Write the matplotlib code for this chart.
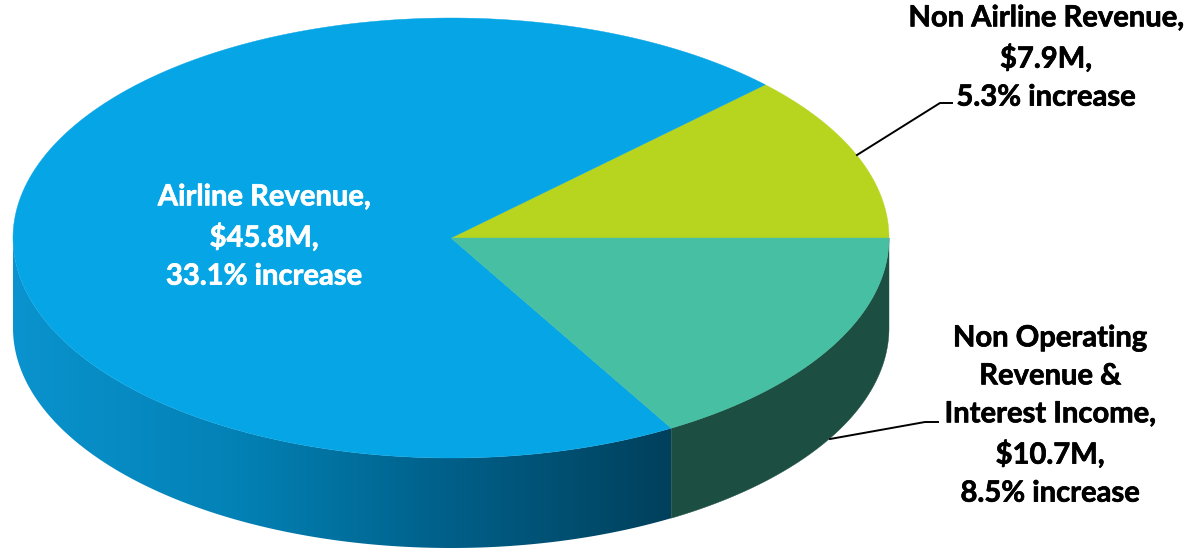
import matplotlib
matplotlib.use("Agg")
import matplotlib.pyplot as plt
import matplotlib.patheffects as pe
from matplotlib.colors import LinearSegmentedColormap
from matplotlib.patches import PathPatch
from matplotlib.path import Path
import numpy as np

# Revenue in $M, counter-clockwise from the 3 o'clock position
segments = ["Non Airline Revenue", "Airline Revenue", "Non Operating Revenue & Interest Income"]
revenue = [7.9, 45.8, 10.7]
top_colors = ["#B7D41E", "#05A5E6", "#47BFA3"]

airline_label = "Airline Revenue,\n$45.8M,\n33.1% increase"
non_airline_label = "Non Airline Revenue,\n$7.9M,\n5.3% increase"
non_operating_label = "Non Operating\nRevenue &\nInterest Income,\n$10.7M,\n8.5% increase"

# Pie geometry in pixels
CX, CY = 451, 238
RX, RY = 438, 220
DEPTH = 90


def rim(start, end, n=200):
    t = np.radians(np.linspace(start, end, n))
    return CX + RX * np.cos(t), CY - RY * np.sin(t)


def closed_path(x, y):
    verts = np.column_stack([x, y])
    verts = np.vstack([verts, verts[0]])
    codes = [Path.MOVETO] + [Path.LINETO] * (len(verts) - 2) + [Path.CLOSEPOLY]
    return Path(verts, codes)


def wall_path(start, end):
    x, y = rim(start, end)
    return closed_path(np.r_[x, x[::-1]], np.r_[y, y[::-1] + DEPTH])


fig = plt.figure(figsize=(11.92, 5.48), dpi=100)
ax = fig.add_axes([0, 0, 1, 1])
ax.set_xlim(0, 1192)
ax.set_ylim(548, 0)
ax.axis("off")

edges = np.r_[0, np.cumsum(revenue)] / sum(revenue) * 360

# Front wall: shaded blue part, then the flat dark green part
shade = LinearSegmentedColormap.from_list("wall", ["#0A93CE", "#0382B6", "#005F88", "#01405C"])
wall_x = rim(180, edges[2])[0]
img = ax.imshow(
    np.linspace(0, 1, 256).reshape(1, -1),
    cmap=shade,
    aspect="auto",
    extent=[wall_x.min(), wall_x.max(), 548, 0],
    zorder=1,
)
blue_wall = PathPatch(wall_path(180, edges[2]), facecolor="none", edgecolor="none", transform=ax.transData)
ax.add_patch(blue_wall)
img.set_clip_path(blue_wall)
ax.set_xlim(0, 1192)
ax.set_ylim(548, 0)

ax.add_patch(PathPatch(wall_path(edges[2], 360), facecolor="#1D4E42", edgecolor="#1D4E42", lw=0.3, zorder=1))

# Top face
for i, color in enumerate(top_colors):
    x, y = rim(edges[i], edges[i + 1], 300)
    ax.add_patch(PathPatch(closed_path(np.r_[CX, x], np.r_[CY, y]), facecolor=color, edgecolor=color, lw=0.3, zorder=2))

# Leader lines
ax.plot([857, 940, 952], [155, 103, 103], color="black", lw=1.4, zorder=3, solid_joinstyle="miter")
ax.plot([830, 925, 938], [439, 422, 422], color="black", lw=1.4, zorder=3, solid_joinstyle="miter")

text_style = dict(family="Lato", weight="bold", size=21, ha="center", va="center", linespacing=1.57, zorder=4)


def label(x, y, s, color):
    t = ax.text(x, y, s, color=color, **text_style)
    # thicken the strokes a little
    t.set_path_effects([pe.withStroke(linewidth=0.5, foreground=color)])


label(264, 237, airline_label, "white")
label(1046, 58, non_airline_label, "black")
label(1050, 416, non_operating_label, "black")

fig.savefig("out.png", dpi=100)
